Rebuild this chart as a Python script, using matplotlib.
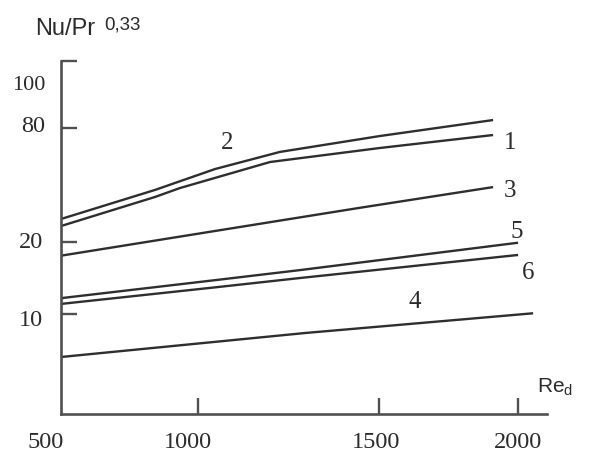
import numpy as np
import matplotlib.pyplot as plt

# ---------------- data ----------------
re_1 = [500, 843, 934, 1199, 1504, 1910]
nu_1 = [28.4, 43.7, 48.4, 62.1, 69.5, 76.3]
re_2 = [500, 843, 1047, 1226, 1504, 1910]
nu_2 = [32.1, 47.4, 58.4, 67.4, 75.8, 83.7]
re_3 = [500, 1047, 1447, 1910]
nu_3 = [18.1, 25.8, 38.0, 48.9]
re_4 = [500, 1296, 2054]
nu_4 = [5.7, 8.1, 10.1]
re_5 = [500, 1047, 1282, 2000]
nu_5 = [12.2, 14.7, 16.1, 19.9]
re_6 = [500, 1047, 1282, 2000]
nu_6 = [11.4, 13.7, 15.0, 18.2]

curve_names = ['1', '2', '3', '4', '5', '6']
x_ticks = [500, 1000, 1500, 2000]
y_ticks = [10, 20, 80, 100]

# ---------------- axis scales (the original axes are hand drawn) ----------------
def make_scale(vals, pos):
    vals = np.asarray(vals, float)
    pos = np.asarray(pos, float)

    def mapping(v, a, b):
        v = np.asarray(v, float)
        out = np.interp(v, a, b)
        k0 = (b[1] - b[0]) / (a[1] - a[0])
        k1 = (b[-1] - b[-2]) / (a[-1] - a[-2])
        out = np.where(v < a[0], b[0] + (v - a[0]) * k0, out)
        out = np.where(v > a[-1], b[-1] + (v - a[-1]) * k1, out)
        return out

    return (lambda v: mapping(v, vals, pos)), (lambda p: mapping(p, pos, vals))

x_fwd, x_inv = make_scale([500, 1000, 1500, 2000], [61, 198, 379, 518])
y_fwd, y_inv = make_scale([0, 10, 20, 80, 100, 110], [-414, -314, -242, -128, -85, -61])

plt.rcParams['mathtext.default'] = 'regular'
ink = '#2b2b2b'
serif = 'Liberation Serif'

fig = plt.figure(figsize=(5.89, 4.57), dpi=100)
ax = fig.add_axes([61 / 589, 1 - 414 / 457, 486 / 589, 353 / 457])
ax.set_xscale('function', functions=(x_fwd, x_inv))
ax.set_yscale('function', functions=(y_fwd, y_inv))
ax.set_xlim(500, 2104)
ax.set_ylim(0, 110)

# ---------------- curves ----------------
for xs, ys in [(re_1, nu_1), (re_2, nu_2), (re_3, nu_3),
               (re_4, nu_4), (re_5, nu_5), (re_6, nu_6)]:
    ax.plot(xs, ys, color='#2e2e2e', lw=1.7, solid_capstyle='butt')

# curve numbers
label_pos = {'1': (1971, 72.1), '2': (1080, 72.1), '3': (1971, 46.8),
             '4': (1629, 11.7), '5': (1996, 25.3), '6': (2036, 15.7)}
for name in curve_names:
    ax.text(*label_pos[name], name, fontsize=18, family=serif, color=ink,
            ha='center', va='center')

# ---------------- axes look ----------------
for side in ['top', 'right']:
    ax.spines[side].set_visible(False)
for side in ['left', 'bottom']:
    ax.spines[side].set_color('#505050')
    ax.spines[side].set_linewidth(1.9)

ax.set_xticks([1000, 1500, 2000])
ax.set_yticks([10, 20, 80, 110])
ax.tick_params(axis='both', direction='in', length=11.5, width=1.7,
               color='#505050', labelbottom=False, labelleft=False)
ax.minorticks_off()

# tick labels, nudged like the original
x_shift = [-15, -10, -3, 0]
for val, dx in zip(x_ticks, x_shift):
    ax.annotate(str(val), xy=(val, 0), xycoords=('data', 'axes fraction'),
                xytext=(dx, -29), textcoords='offset pixels',
                ha='center', va='center', fontsize=17.5, family=serif, color=ink)
y_shift = [(-18, -6, 17.5), (-18, -1, 17.5), (-16, 1, 17.5), (-16, 0, 16)]
for val, (dx, dy, fs) in zip(y_ticks, y_shift):
    ax.annotate(str(val), xy=(0, val), xycoords=('axes fraction', 'data'),
                xytext=(dx, dy), textcoords='offset pixels',
                ha='right', va='center', fontsize=fs, family=serif, color=ink)

# axis titles
fig.text(35 / 589, 1 - 35 / 457, 'Nu/Pr', fontsize=17, family='Liberation Sans',
         color=ink, va='baseline')
fig.text(104 / 589, 1 - 30 / 457, '0,33', fontsize=13.5, family='Liberation Sans',
         color=ink, va='baseline')
fig.text(537 / 589, 1 - 393 / 457, 'Re$_d$', fontsize=15, family='Liberation Sans',
         color=ink, va='baseline')

plt.savefig('out.png', dpi=100)
